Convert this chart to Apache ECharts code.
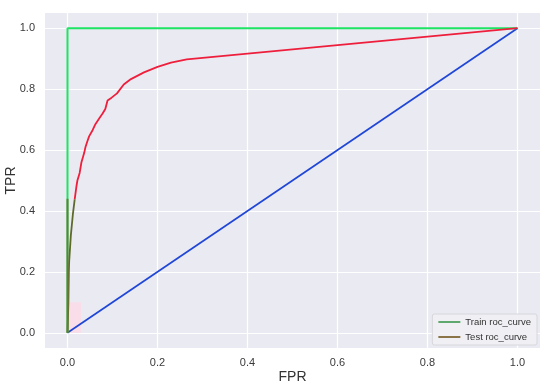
<!DOCTYPE html>
<html>
<head>
    <meta charset="utf-8" />
    <title>roc</title>
    <script src="https://cdn.jsdelivr.net/npm/echarts@6/dist/echarts.min.js"></script>
</head>
<body style="margin:0">
    <div id="main" style="width:550px;height:388px;"></div>
    <script type="text/javascript">
        // tick labels
        var ticks = [0, 0.2, 0.4, 0.6, 0.8, 1.0]

        // train roc
        var trainFpr = [0, 0, 1]
        var trainTpr = [0, 1, 1]

        // test roc (lower part, drawn darker in the picture)
        var testLowFpr = [0, 0.002, 0.003, 0.0037, 0.0074, 0.012, 0.016]
        var testLowTpr = [0, 0.1, 0.2, 0.234, 0.319, 0.39, 0.438]
        // the dark overlay along x = 0
        var trainLowFpr = [0, 0]
        var trainLowTpr = [0, 0.44]

        // test roc (upper part)
        var testFpr = [0.016, 0.020, 0.022, 0.027, 0.031, 0.037, 0.040, 0.044, 0.048, 0.056, 0.062, 0.070, 0.078, 0.084, 0.089, 0.098, 0.110, 0.125, 0.141, 0.170, 0.200, 0.230, 0.265, 1]
        var testTpr = [0.438, 0.482, 0.50, 0.525, 0.56, 0.590, 0.61, 0.628, 0.645, 0.666, 0.685, 0.703, 0.72, 0.735, 0.763, 0.772, 0.786, 0.815, 0.833, 0.855, 0.873, 0.887, 0.898, 1]

        // chance line
        var baseFpr = [0, 1]
        var baseTpr = [0, 1]

        function pairs(xs, ys) {
            var out = []
            for (var i = 0; i < xs.length; i++) {
                out.push([xs[i], ys[i]])
            }
            return out
        }

        var myChart = echarts.init(document.getElementById("main"))
        var font = 'Liberation Sans'

        var axisCommon = {
            type: 'value',
            min: -0.05,
            max: 1.05,
            axisLine: { show: false },
            axisTick: { show: false, customValues: ticks },
            axisLabel: {
                customValues: ticks,
                color: '#3a3a3a',
                fontSize: 11,
                fontFamily: font,
                formatter: function (v) { return v.toFixed(1) }
            },
            splitLine: { show: true, lineStyle: { color: '#ffffff', width: 1.2 } },
            nameLocation: 'middle',
            nameMoveOverlap: false,
            nameTextStyle: { color: '#333', fontSize: 14, fontFamily: font }
        }

        var option = {
            animation: false,
            backgroundColor: '#ffffff',
            grid: {
                left: 45, right: 10, top: 13, bottom: 40,
                outerBoundsMode: 'none',
                containLabel: false,
                show: true,
                backgroundColor: '#eaeaf2',
                borderWidth: 0
            },
            xAxis: Object.assign({}, axisCommon, {
                name: 'FPR',
                nameGap: 22,
                axisLabel: Object.assign({}, axisCommon.axisLabel, { margin: 9 })
            }),
            yAxis: Object.assign({}, axisCommon, {
                name: 'TPR',
                nameGap: 27,
                axisLabel: Object.assign({}, axisCommon.axisLabel, { margin: 10 })
            }),
            legend: {
                orient: 'vertical',
                right: 13,
                bottom: 43,
                padding: [3, 6, 3, 6],
                icon: 'rect',
                itemWidth: 22,
                itemHeight: 2,
                itemGap: 5,
                backgroundColor: 'rgba(240,240,244,0.9)',
                borderColor: '#d6d6dc',
                borderWidth: 1,
                borderRadius: 2,
                textStyle: { color: '#333', fontSize: 9.5, fontFamily: font },
                data: [
                    { name: 'Train roc_curve', itemStyle: { color: '#5fa96e' } },
                    { name: 'Test roc_curve', itemStyle: { color: '#8a7448' } }
                ]
            },
            series: [
                {
                    name: 'Chance',
                    type: 'line',
                    symbol: 'none',
                    data: pairs(baseFpr, baseTpr),
                    lineStyle: { color: '#1f46d6', width: 1.7 },
                    markArea: {
                        silent: true,
                        itemStyle: { color: 'rgba(255,215,230,0.7)' },
                        data: [[{ coord: [0, 0] }, { coord: [0.03, 0.1] }]]
                    }
                },
                {
                    name: 'Train roc_curve',
                    type: 'line',
                    symbol: 'none',
                    data: pairs(trainFpr, trainTpr),
                    lineStyle: { color: '#1ee464', width: 2 }
                },
                {
                    name: 'Test roc_curve',
                    type: 'line',
                    symbol: 'none',
                    data: pairs(testFpr, testTpr),
                    lineStyle: { color: '#ee1f3c', width: 1.8 }
                },
                {
                    name: 'TestLow',
                    type: 'line',
                    symbol: 'none',
                    data: pairs(testLowFpr, testLowTpr),
                    lineStyle: { color: '#5e6a2c', width: 1.8 }
                },
                {
                    name: 'TrainLow',
                    type: 'line',
                    symbol: 'none',
                    data: pairs(trainLowFpr, trainLowTpr),
                    lineStyle: { color: '#6f7a3a', width: 2 }
                }
            ]
        }
        myChart.setOption(option)
    </script>
</body>
</html>
